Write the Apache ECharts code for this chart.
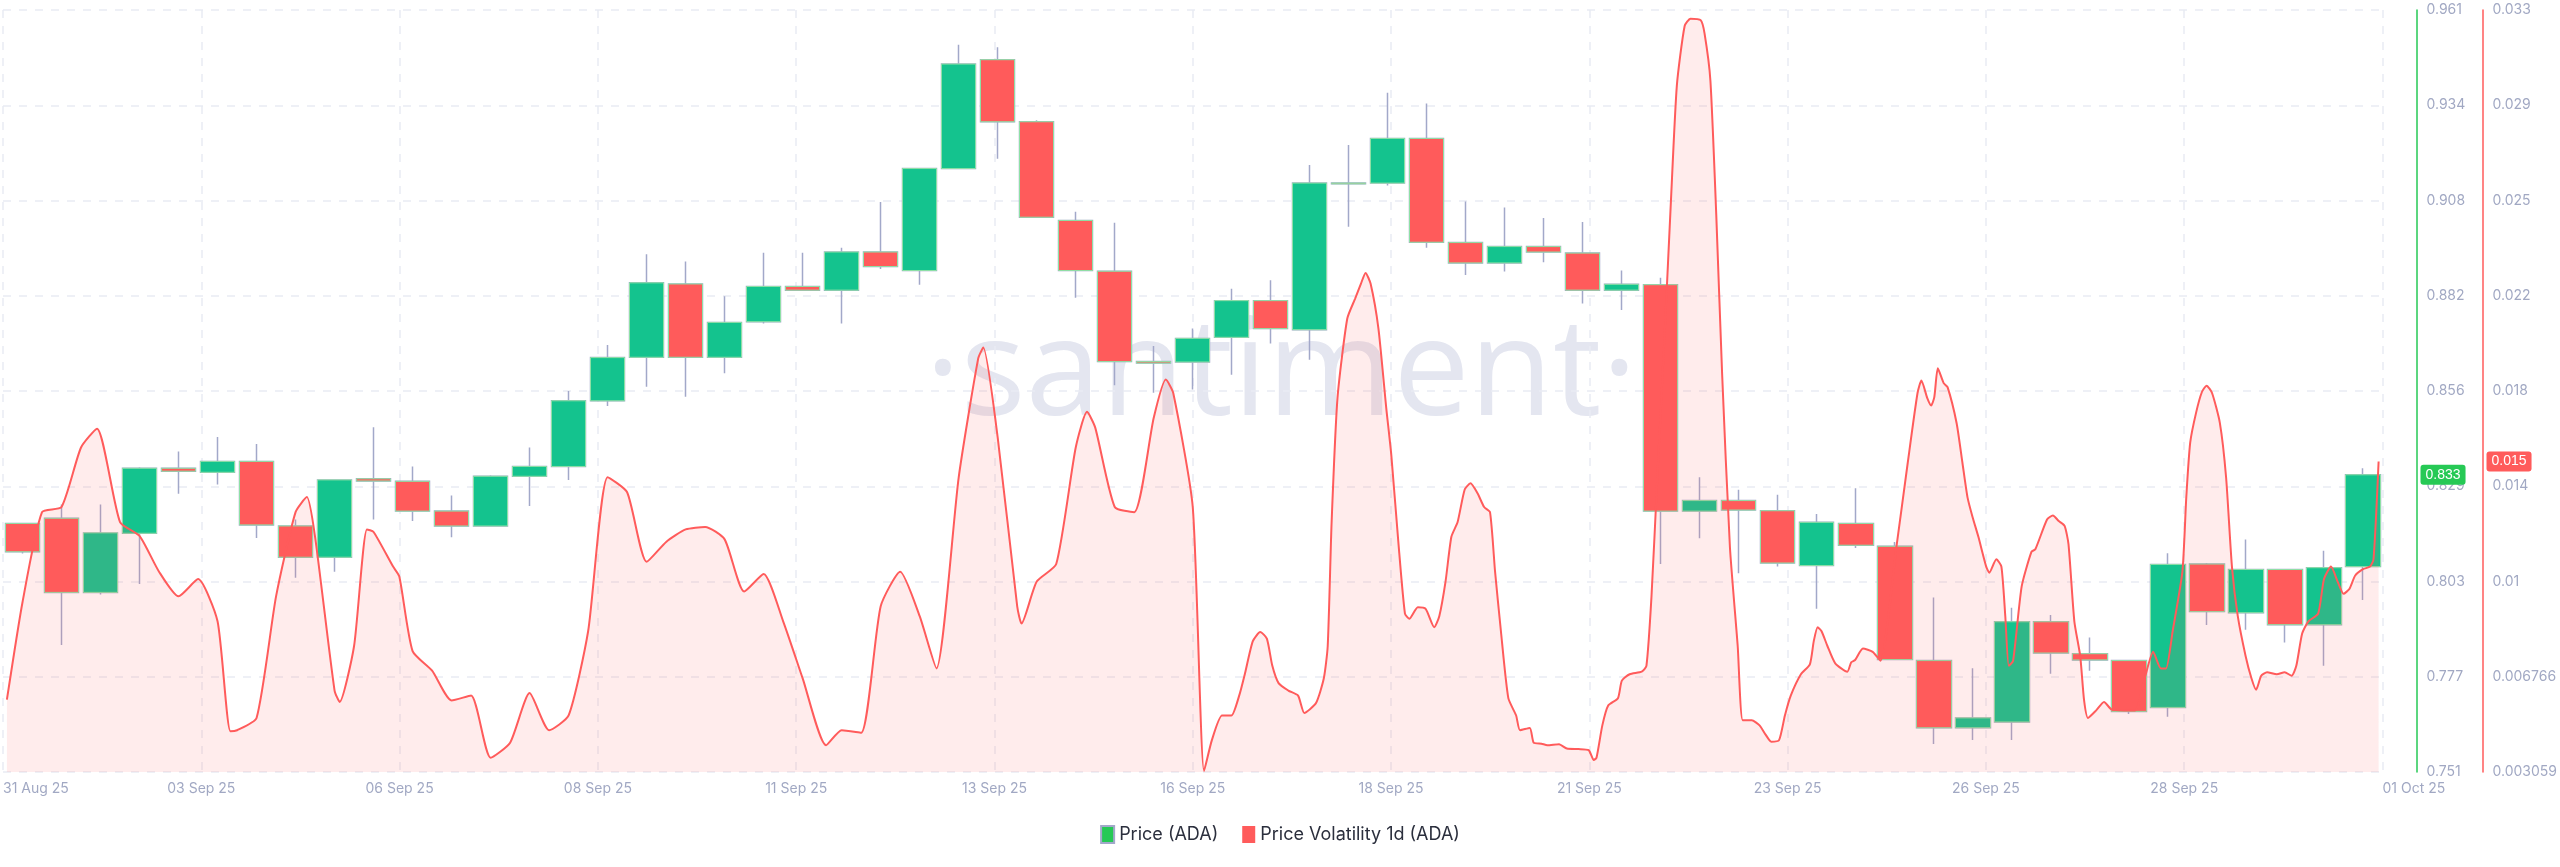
<!DOCTYPE html>
<html>
<head>
<meta charset="utf-8">
<script src="https://cdn.jsdelivr.net/npm/echarts@6/dist/echarts.min.js"></script>
<style>
  html, body { margin: 0; padding: 0; background: #fff; }
  #chart { width: 2560px; height: 867px; }
</style>
</head>
<body>
<div id="chart"></div>
<script>
// 12h candles, 31 Aug 25 -> 01 Oct 25
var priceOpen = [0.8195,0.8209,0.8005,0.8168,0.8347,0.8336,0.8366,0.8188,0.8102,0.8318,
                 0.8311,0.8229,0.8188,0.8325,0.8352,0.8533,0.8653,0.8855,0.8653,0.8751,
                 0.8848,0.8838,0.8943,0.8892,0.9173,0.9473,0.9302,0.9030,0.8890,0.8641,
                 0.8640,0.8708,0.8809,0.8729,0.9133,0.9133,0.9256,0.8969,0.8913,0.8958,
                 0.8940,0.8838,0.8853,0.8229,0.8258,0.8230,0.8079,0.8195,0.8132,0.7817,
                 0.7632,0.7648,0.7924,0.7836,0.7817,0.7688,0.8083,0.7949,0.8068,0.7916,
                 0.8076];
var priceClose = [0.8117,0.8005,0.8169,0.8347,0.8339,0.8366,0.8191,0.8102,0.8315,0.8312,
                  0.8229,0.8188,0.8325,0.8352,0.8533,0.8652,0.8858,0.8653,0.8749,0.8848,
                  0.8838,0.8943,0.8903,0.9173,0.9461,0.9302,0.9039,0.8892,0.8641,0.8637,
                  0.8705,0.8809,0.8732,0.9133,0.9131,0.9256,0.8970,0.8913,0.8958,0.8943,
                  0.8838,0.8854,0.8229,0.8258,0.8232,0.8086,0.8198,0.8135,0.7820,0.7632,
                  0.7659,0.7924,0.7838,0.7819,0.7677,0.8082,0.7952,0.8068,0.7916,0.8073,
                  0.8329];
var priceLow = [0.8112,0.7860,0.7999,0.8028,0.8277,0.8302,0.8155,0.8045,0.8062,0.8206,
                0.8202,0.8157,0.8186,0.8243,0.8315,0.8519,0.8572,0.8544,0.8609,0.8746,
                0.8836,0.8746,0.8896,0.8853,0.9173,0.9200,0.9039,0.8817,0.8576,0.8555,
                0.8564,0.8605,0.8691,0.8646,0.9013,0.9126,0.8955,0.8880,0.8889,0.8915,
                0.8801,0.8783,0.8083,0.8154,0.8058,0.8076,0.7960,0.8127,0.7820,0.7587,
                0.7598,0.7598,0.7781,0.7789,0.7670,0.7662,0.7915,0.7902,0.7867,0.7803,
                0.7984];
var priceHigh = [0.8197,0.8247,0.8247,0.8350,0.8393,0.8433,0.8414,0.8206,0.8315,0.8460,
                 0.8352,0.8272,0.8328,0.8404,0.8560,0.8687,0.8937,0.8917,0.8821,0.8941,
                 0.8941,0.8955,0.9081,0.9173,0.9514,0.9507,0.9306,0.9054,0.9024,0.8684,
                 0.8732,0.8842,0.8865,0.9183,0.9238,0.9382,0.9352,0.9082,0.9066,0.9037,
                 0.9026,0.8892,0.8872,0.8322,0.8288,0.8274,0.8221,0.8292,0.8144,0.7991,
                 0.7796,0.7963,0.7943,0.7881,0.7817,0.8113,0.8086,0.8151,0.8068,0.8120,
                 0.8347];

// volatility: position in candles (fractional) and value
var volPos = [-0.4,0,0.5,1,1.5,1.91,2.5,3,3.5,4,4.5,5,5.33,5.5,6,6.5,7,7.29,7.5,8,8.13,8.5,8.83,9,9.5,9.66,
  10,10.5,11,11.5,12,12.5,13,13.5,14,14.5,15,15.5,16,16.5,17,17.5,18,18.5,19,19.5,20,20.6,21,21.5,
  22,22.5,23,23.43,24,24.5,24.63,25,25.5,25.61,26,26.5,27,27.29,27.5,28,28.5,29,29.31,29.5,30,
  30.29,30.49,30.75,30.99,31.19,31.34,31.54,31.73,31.9,32.04,32.2,32.45,32.7,32.86,33.16,33.36,33.46,33.56,33.71,33.96,
  34.16,34.31,34.43,34.56,34.76,34.96,35.09,35.27,35.44,35.55,35.77,35.97,36.19,36.32,36.48,36.63,36.79,36.97,
  37.12,37.3,37.47,37.62,37.75,37.9,38.09,38.29,38.39,38.64,38.74,38.94,39.09,39.39,39.59,39.89,
  40.15,40.28,40.35,40.5,40.65,40.9,41.0,41.2,41.51,41.63,41.76,41.91,42.11,42.26,42.41,42.61,42.76,
  43.02,43.12,43.27,43.42,43.57,43.77,43.97,44.1,44.33,44.53,44.68,44.83,45.03,45.18,45.33,45.59,45.82,
  45.92,46.02,46.12,46.27,46.47,46.78,46.88,46.98,47.18,47.43,47.63,48.04,48.33,48.58,48.68,48.83,48.93,
  49.01,49.1,49.25,49.35,49.58,49.73,49.86,49.99,50.14,50.34,50.42,50.6,50.73,50.83,50.92,51.03,51.25,
  51.5,51.6,51.9,52.05,52.2,52.35,52.45,52.6,52.75,52.85,52.95,53.16,53.36,53.56,53.87,54.16,54.42,
  54.62,54.82,54.95,55.12,55.37,55.47,55.57,55.72,55.87,55.99,56.13,56.33,56.49,56.64,56.79,56.99,
  57.14,57.26,57.39,57.54,57.79,57.99,58.17,58.29,58.44,58.6,58.85,59.0,59.18,59.35,59.5,59.65,59.8,
  60.0,60.18,60.27,60.4];
var volValue = [0.00590,0.00973,0.01327,0.01347,0.01581,0.01655,0.01288,0.01234,0.01093,0.00996,0.01064,0.00898,0.00466,0.00470,0.00518,0.00996,0.01327,0.01386,0.01230,0.00626,0.00581,0.00801,0.01259,0.01249,0.01113,0.01074,
  0.00781,0.00704,0.00587,0.00606,0.00362,0.00421,0.00616,0.00470,0.00528,0.00859,0.01464,0.01405,0.01132,0.01210,0.01259,0.01269,0.01220,0.01015,0.01084,0.00898,0.00674,0.00411,0.00470,0.00460,
  0.00957,0.01093,0.00918,0.00713,0.01464,0.01931,0.01974,0.01620,0.00957,0.00889,0.01054,0.01123,0.01581,0.01721,0.01659,0.01347,0.01327,0.01698,0.01848,0.01795,0.01347,
  0.00310,0.00431,0.00528,0.00528,0.00606,0.00694,0.00820,0.00856,0.00830,0.00723,0.00655,0.00626,0.00606,0.00538,0.00577,0.00674,0.00801,0.01288,0.01775,0.02087,
  0.02165,0.02224,0.02267,0.02224,0.02048,0.01737,0.01551,0.01210,0.00928,0.00908,0.00953,0.00947,0.00875,0.00918,0.01054,0.01230,0.01288,0.01415,
  0.01440,0.01401,0.01347,0.01327,0.01093,0.00859,0.00596,0.00528,0.00470,0.00479,0.00421,0.00417,0.00411,0.00415,0.00398,0.00396,
  0.00392,0.00353,0.00362,0.00489,0.00567,0.00596,0.00665,0.00690,0.00700,0.00723,0.00996,0.01464,0.02068,0.02555,0.03003,0.03237,0.03266,
  0.03260,0.03208,0.03023,0.02497,0.01873,0.01191,0.00801,0.00509,0.00509,0.00489,0.00454,0.00425,0.00431,0.00528,0.00606,0.00690,0.00729,
  0.00820,0.00875,0.00859,0.00801,0.00733,0.00700,0.00737,0.00746,0.00791,0.00778,0.00743,0.01191,0.01522,0.01795,0.01844,0.01775,0.01746,
  0.01779,0.01892,0.01834,0.01818,0.01678,0.01522,0.01386,0.01308,0.01230,0.01113,0.01089,0.01142,0.01113,0.00918,0.00723,0.00743,0.01035,
  0.01171,0.01181,0.01298,0.01314,0.01292,0.01273,0.01201,0.00898,0.00762,0.00587,0.00518,0.00548,0.00581,0.00551,0.00548,0.00548,0.00684,
  0.00778,0.00713,0.00713,0.00859,0.01093,0.01386,0.01600,0.01717,0.01799,0.01824,0.01795,0.01678,0.01464,0.01113,0.00918,0.00762,
  0.00674,0.00629,0.00684,0.00698,0.00690,0.00698,0.00684,0.00723,0.00850,0.00898,0.00928,0.01064,0.01113,0.01054,0.01006,0.01025,0.01078,
  0.01103,0.01113,0.01142,0.01526];

var dateLabels = ['31 Aug 25','03 Sep 25','06 Sep 25','08 Sep 25','11 Sep 25','13 Sep 25','16 Sep 25',
                  '18 Sep 25','21 Sep 25','23 Sep 25','26 Sep 25','28 Sep 25','01 Oct 25'];
var priceTicks = ['0.751','0.777','0.803','0.829','0.856','0.882','0.908','0.934','0.961'];
var volTicks = ['0.003059','0.006766','0.01','0.014','0.018','0.022','0.025','0.029','0.033'];

var priceMin = 0.751, priceMax = 0.961;
var volMin = 0.003059, volMax = 0.033;

var UP = '#14c38e', DOWN = '#ff5b5b', AXIS_TXT = '#a1a8c3', GRID = '#e9ebf4';

var cats = priceOpen.map(function (_, i) { return i; });
var candles = cats.map(function (i) {
  return [priceOpen[i], priceClose[i], priceLow[i], priceHigh[i]];
});
var bodies = cats.map(function (i) {
  var lo = Math.min(priceOpen[i], priceClose[i]), hi = Math.max(priceOpen[i], priceClose[i]);
  return [priceOpen[i], priceClose[i], lo, hi];
});
var volData = volPos.map(function (p, i) { return [p, volValue[i]]; });

function tickLabel(list, min, max) {
  return function (v) {
    var k = Math.round((v - min) / (max - min) * (list.length - 1));
    return list[k] || '';
  };
}

var chart = echarts.init(document.getElementById('chart'));
chart.setOption({
  animation: false,
  grid: { left: 0, right: 163, top: 10, bottom: 95 },
  graphic: [{
    type: 'text', left: 925, top: 308, z: -1,
    style: { text: '·santiment·', fill: '#e4e6f0', font: '136px "Open Sans", sans-serif' }
  }],
  legend: {
    bottom: 18, left: 'center', itemGap: 24, itemWidth: 13, itemHeight: 17, icon: 'rect',
    textStyle: { color: '#2b2f3d', fontSize: 18, fontFamily: 'Inter, sans-serif' },
    data: [
      { name: 'Price (ADA)', itemStyle: { color: '#26c955' } },
      { name: 'Price Volatility 1d (ADA)', itemStyle: { color: DOWN } }
    ]
  },
  xAxis: [
    { type: 'category', data: cats, show: false, boundaryGap: true },
    { type: 'value', min: -0.5, max: 60.5, show: false },
    {
      type: 'value', min: 0, max: 12, interval: 1, position: 'bottom',
      axisLine: { show: false }, axisTick: { show: false },
      splitLine: { show: true, lineStyle: { color: GRID, type: [8, 8], width: 1.5 } },
      axisLabel: {
        color: AXIS_TXT, fontSize: 14, margin: 10, fontFamily: 'Inter, sans-serif',
        showMinLabel: true, showMaxLabel: true, alignMinLabel: 'left', alignMaxLabel: 'left',
        formatter: function (v) { return dateLabels[Math.round(v)]; }
      }
    }
  ],
  yAxis: [
    {
      type: 'value', position: 'right', min: priceMin, max: priceMax,
      interval: (priceMax - priceMin) / 8, offset: 34,
      axisLine: { show: true, onZero: false, lineStyle: { color: '#26c955', width: 1.5 } },
      axisTick: { show: false },
      axisLabel: { color: AXIS_TXT, fontSize: 14, margin: 10, fontFamily: 'Inter, sans-serif',
                   formatter: tickLabel(priceTicks, priceMin, priceMax) },
      splitLine: { show: true, lineStyle: { color: GRID, type: [8, 8], width: 1.5 } },
      axisPointer: {
        show: true, value: priceClose[priceClose.length - 1], status: 'show',
        lineStyle: { opacity: 0 }, triggerTooltip: false,
        label: { show: true, backgroundColor: '#26c955', color: '#fff', fontSize: 14,
                 padding: [3, 5], margin: 4, formatter: function (p) { return p.value.toFixed(3); } }
      }
    },
    {
      type: 'value', position: 'right', min: volMin, max: volMax,
      interval: (volMax - volMin) / 8, offset: 100,
      axisLine: { show: true, onZero: false, lineStyle: { color: DOWN, width: 1.5 } },
      axisTick: { show: false },
      axisLabel: { color: AXIS_TXT, fontSize: 14, margin: 10, fontFamily: 'Inter, sans-serif',
                   formatter: tickLabel(volTicks, volMin, volMax) },
      splitLine: { show: false },
      axisPointer: {
        show: true, value: volValue[volValue.length - 1], status: 'show',
        lineStyle: { opacity: 0 }, triggerTooltip: false,
        label: { show: true, backgroundColor: DOWN, color: '#fff', fontSize: 14,
                 padding: [3, 5], margin: 4, formatter: function (p) { return p.value.toFixed(3); } }
      }
    }
  ],
  series: [
    {
      name: 'Price (ADA)', type: 'candlestick', xAxisIndex: 0, yAxisIndex: 0,
      barWidth: '89%', z: 2, data: candles,
      itemStyle: { color: UP, color0: DOWN, borderColor: '#a2a8c9', borderColor0: '#a2a8c9', borderWidth: 1.5 }
    },
    {
      name: 'bodies', type: 'candlestick', xAxisIndex: 0, yAxisIndex: 0,
      barWidth: '89%', z: 3, data: bodies, legendHoverLink: false,
      itemStyle: { color: UP, color0: DOWN, borderColor: '#8ee0a6', borderColor0: '#8ee0a6', borderWidth: 1 }
    },
    {
      name: 'Price Volatility 1d (ADA)', type: 'line', xAxisIndex: 1, yAxisIndex: 1,
      data: volData, showSymbol: false, smooth: 0.2, z: 5,
      lineStyle: { color: DOWN, width: 2 },
      itemStyle: { color: DOWN },
      areaStyle: { color: 'rgba(255,91,91,0.17)' }
    }
  ]
});
</script>
</body>
</html>
